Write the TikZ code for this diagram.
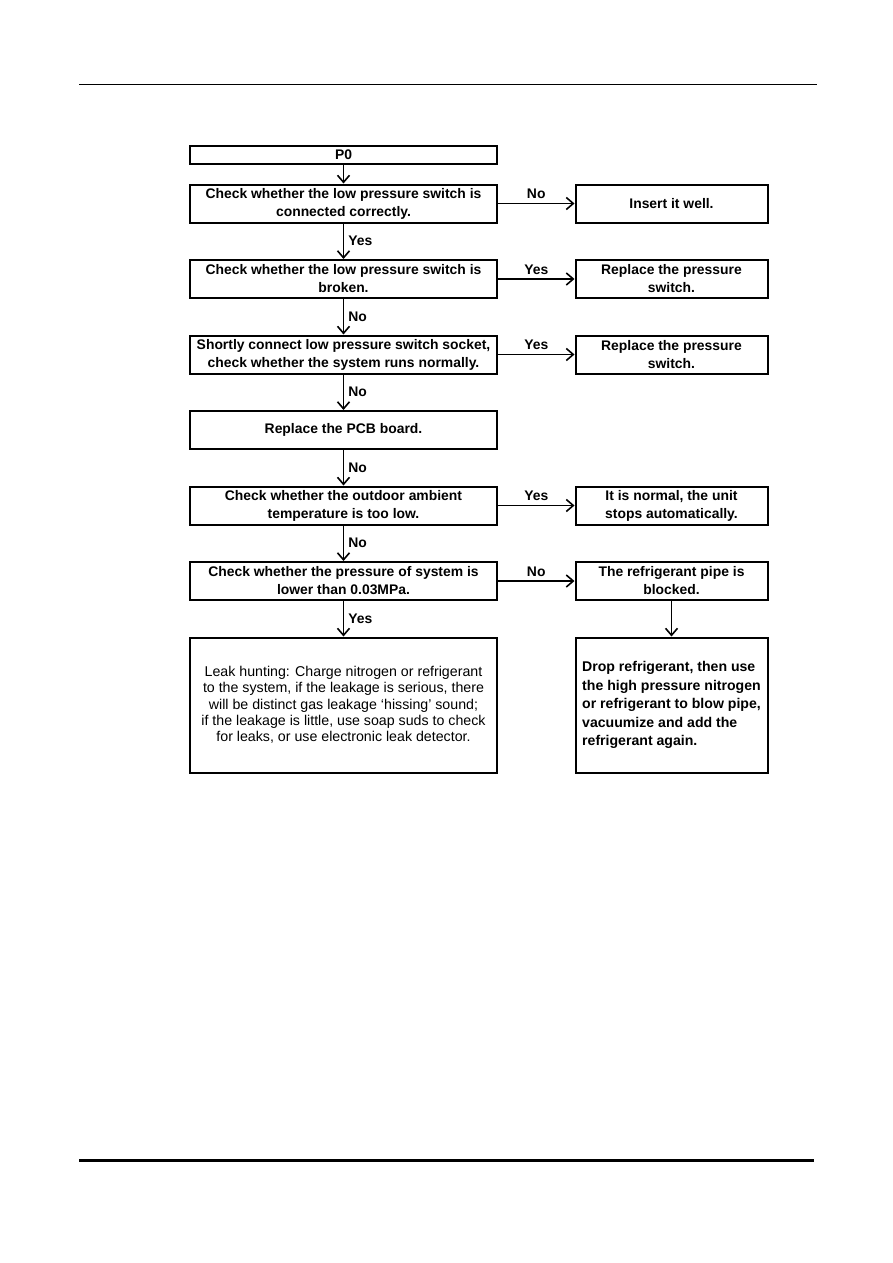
\documentclass[tikz,border=0pt]{standalone}
\usepackage{fontspec}
\setmainfont{Liberation Sans}
\usetikzlibrary{arrows.meta}
\begin{document}
\begin{tikzpicture}[x=1pt,y=-1pt,
  bx/.style={draw, line width=2pt, minimum height=38pt, align=center, inner sep=0pt,
    font=\bfseries\fontsize{13.9}{18}\selectfont},
  lbox/.style={bx, minimum width=307pt},
  rbox/.style={bx, minimum width=192pt},
  arr/.style={-{Straight Barb[length=7pt,width=12pt,line width=1.6pt]}, line width=1.7pt},
  lab/.style={font=\bfseries\fontsize{13.9}{16}\selectfont, inner sep=0pt}]
\useasboundingbox (0,0) rectangle (893,1263);
\draw[line width=1.2pt] (79,84.3) coordinate (ha) -- (817,84.3) coordinate (hb);
\draw[line width=2.6pt] (79,1160.7) coordinate (fa) -- (814,1160.7) coordinate (fb);

\node[lbox, minimum height=18pt] (p0) at (343.5,155) {P0};
\node[lbox] (c1) at (343.5,203.5) {Check whether the low pressure switch is\\connected correctly.};
\node[rbox] (r1) at (671.5,203.5) {Insert it well.};
\node[lbox] (c2) at (343.5,279) {Check whether the low pressure switch is\\broken.};
\node[rbox] (r2) at (671.5,279) {Replace the pressure\\switch.};
\node[lbox] (c3) at (343.5,354.5) {Shortly connect low pressure switch socket,\\check whether the system runs normally.};
\node[rbox] (r3) at (671.5,354.5) {Replace the pressure\\switch.};
\node[lbox] (c4) at (343.5,430) {Replace the PCB board.};
\node[lbox] (c5) at (343.5,505.5) {Check whether the outdoor ambient\\temperature is too low.};
\node[rbox] (r5) at (671.5,505.5) {It is normal, the unit\\stops automatically.};
\node[lbox] (c6) at (343.5,581) {Check whether the pressure of system is\\lower than 0.03MPa.};
\node[rbox] (r6) at (671.5,581) {The refrigerant pipe is\\blocked.};
\node[lbox, minimum height=135pt, font=\fontsize{14.2}{16.3}\selectfont] (c7) at (343.5,705)
  {Leak hunting: Charge nitrogen or refrigerant\\to the system, if the leakage is serious, there\\will be distinct gas leakage `hissing' sound;\\if the leakage is little, use soap suds to check\\for leaks, or use electronic leak detector.};
\node[rbox, minimum height=135pt, align=left,
  font=\bfseries\fontsize{14.1}{18.5}\selectfont] (r7) at (671.5,705)
  {Drop refrigerant, then use\\the high pressure nitrogen\\or refrigerant to blow pipe,\\vacuumize and add the\\refrigerant again.};

\draw[arr] (p0) -- (c1);
\draw[arr] (c1) -- node[lab, midway, right=4pt] {Yes} (c2);
\draw[arr] (c2) -- node[lab, midway, right=4pt] {No} (c3);
\draw[arr] (c3) -- node[lab, midway, right=4pt] {No} (c4);
\draw[arr] (c4) -- node[lab, midway, right=4pt] {No} (c5);
\draw[arr] (c5) -- node[lab, midway, right=4pt] {No} (c6);
\draw[arr] (c6) -- node[lab, midway, right=4pt] {Yes} (c7);
\draw[arr] (c1) -- node[lab, midway, above=4pt] {No} (r1);
\draw[arr] (c2) -- node[lab, midway, above=4pt] {Yes} (r2);
\draw[arr] (c3) -- node[lab, midway, above=4pt] {Yes} (r3);
\draw[arr] (c5) -- node[lab, midway, above=4pt] {Yes} (r5);
\draw[arr] (c6) -- node[lab, midway, above=4pt] {No} (r6);
\draw[arr] (r6) -- (r7);
\end{tikzpicture}
\end{document}
